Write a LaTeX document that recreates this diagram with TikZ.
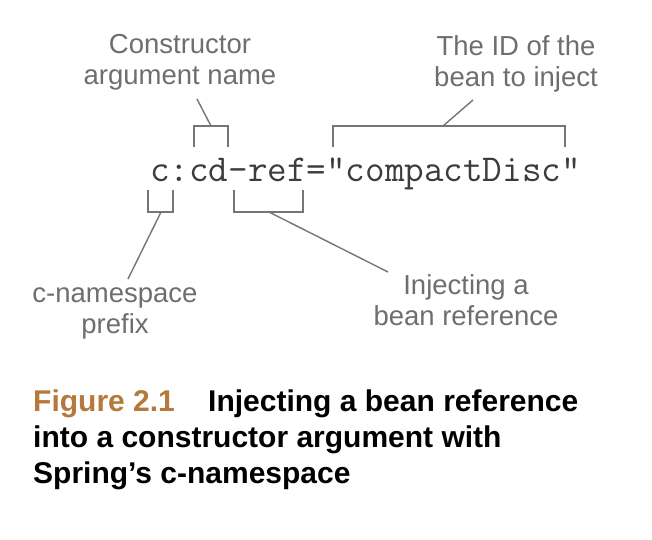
\documentclass[tikz,border=0pt]{standalone}
\usepackage{fontspec}
\setmainfont{Liberation Sans}
\newfontfamily\labfont{Liberation Sans}
\newfontfamily\capfont{Liberation Sans}[BoldFont={* Bold}]
\definecolor{labgray}{HTML}{6E6E6E}
\definecolor{linegray}{HTML}{757575}
\definecolor{codegray}{HTML}{3C3C3C}
\definecolor{figbrown}{HTML}{B5793C}
\begin{document}
\begin{tikzpicture}[x=1pt,y=-1pt,
  lab/.style={font=\labfont\fontsize{27.5}{30.5}\selectfont, text=labgray, align=center, inner sep=0pt},
  bracket/.style={draw=linegray, line width=1.4pt},
  leader/.style={draw=linegray, line width=1.4pt},
  capline/.style={font=\capfont\bfseries\fontsize{30}{32}\selectfont, anchor=base west, inner sep=0pt}]
\useasboundingbox (0,0) rectangle (652,539);
% code text
\node[anchor=base west, inner sep=0pt, text=codegray, font=\ttfamily\fontsize{38}{40}\selectfont] (code) at (150,181) {c:cd-ref="compactDisc"};
% labels (base anchor = baseline of the last line)
\node[lab, anchor=base] (cons) at (180,84) {Constructor\\argument name};
\node[lab, anchor=base] (id) at (516,86) {The ID of the\\bean to inject};
\node[lab, anchor=base] (pre) at (115,333) {c-namespace\\prefix};
\node[lab, anchor=base] (ref) at (466,325) {Injecting a\\bean reference};
% bracket coordinates
\coordinate (cdm) at (211,126);
\coordinate (cde) at (197,99);
\coordinate (idm) at (443,126);
\coordinate (ide) at (473,100);
\coordinate (prm) at (161,212);
\coordinate (pre2) at (128,279);
\coordinate (rfm) at (269,212);
\coordinate (rfe) at (388,272);
% brackets
\draw[bracket] (194,147) -- (194,126) -- (228,126) -- (228,147);
\draw[bracket] (333,147) -- (333,126) -- (565,126) -- (565,147);
\draw[bracket] (148,190) -- (148,212) -- (173,212) -- (173,190);
\draw[bracket] (234,190) -- (234,212) -- (303,212) -- (303,190);
% leaders
\draw[leader] (cdm) -- (cde);
\draw[leader] (idm) -- (ide);
\draw[leader] (prm) -- (pre2);
\draw[leader] (rfm) -- (rfe);
% caption
\node[capline] (cap1) at (33,411) {\textcolor{figbrown}{Figure 2.1}};
\node[capline] (cap1b) at (208,411) {Injecting a bean reference};
\node[capline] (cap2) at (33,447) {into a constructor argument with};
\node[capline] (cap3) at (33,483) {Spring’s c-namespace};
\end{tikzpicture}
\end{document}
